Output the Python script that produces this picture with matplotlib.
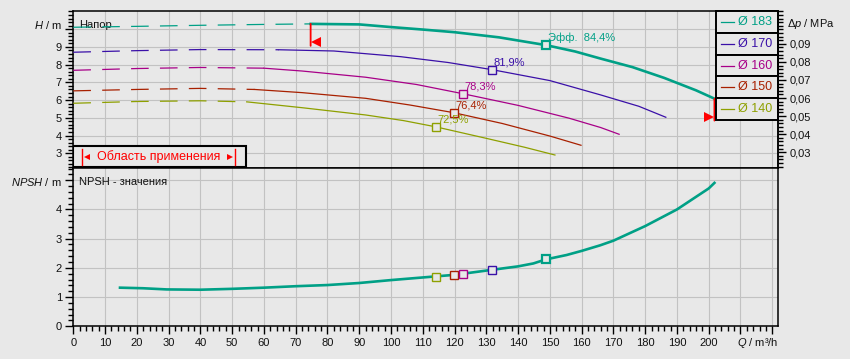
import matplotlib
matplotlib.use("Agg")
import matplotlib.pyplot as plt
from matplotlib.patches import Rectangle
from matplotlib.ticker import MultipleLocator, FixedLocator, FuncFormatter
from matplotlib.transforms import offset_copy

# ---- data --------------------------------------------------------------
diameters = [183, 170, 160, 150, 140]

q183 = [0, 20, 40, 60, 74.7, 90, 100, 110, 120, 134, 148.8, 158, 166, 176, 186, 196, 201.8]
h183 = [10.11, 10.16, 10.22, 10.27, 10.30, 10.27, 10.12, 9.98, 9.83, 9.54, 9.10, 8.74, 8.34, 7.86, 7.25, 6.55, 6.08]

q170 = [0, 20, 40, 64.7, 82, 103, 118, 131.7, 150, 166, 178, 186.5]
h170 = [8.70, 8.79, 8.85, 8.84, 8.77, 8.45, 8.12, 7.72, 7.10, 6.29, 5.65, 5.03]

q160 = [0, 20, 40, 60, 72, 92, 108, 122.6, 140, 156, 166, 171.8]
h160 = [7.68, 7.78, 7.84, 7.80, 7.64, 7.29, 6.88, 6.36, 5.70, 4.98, 4.45, 4.07]

q150 = [0, 20, 40, 57, 72, 92, 106, 119.7, 135, 150, 159.8]
h150 = [6.52, 6.60, 6.66, 6.60, 6.42, 6.10, 5.72, 5.29, 4.68, 3.97, 3.45]

q140 = [0, 20, 40, 54.6, 72, 92, 104, 114.1, 130, 142, 151.6]
h140 = [5.82, 5.92, 5.96, 5.90, 5.57, 5.16, 4.84, 4.49, 3.84, 3.34, 2.90]

# start of the allowed (solid) part of each curve
q_min = [74.7, 64.7, 60, 57, 54.6]

# best efficiency points
bep_q = [148.8, 131.7, 122.6, 119.7, 114.1]
bep_h = [9.10, 7.72, 6.36, 5.29, 4.49]
bep_eff = ["Эфф.  84,4%", "81,9%", "78,3%", "76,4%", "72,5%"]
bep_npsh = [2.29, 1.93, 1.80, 1.76, 1.70]

q_npsh = [14.7, 22, 29.4, 40, 50, 60, 70, 80, 90, 100, 110, 120, 131.7, 140,
          144.8, 148.8, 155.3, 160, 165.8, 170, 180, 190, 200, 201.8]
npsh = [1.32, 1.30, 1.26, 1.25, 1.28, 1.32, 1.37, 1.41, 1.48, 1.58, 1.67, 1.76, 1.93, 2.05,
        2.15, 2.29, 2.44, 2.58, 2.77, 2.93, 3.43, 4.00, 4.72, 4.91]

dp_ticks = [0.03, 0.04, 0.05, 0.06, 0.07, 0.08, 0.09]
MPA_PER_M = 0.00981

curves_q = [q183, q170, q160, q150, q140]
curves_h = [h183, h170, h160, h150, h140]

# ---- style -------------------------------------------------------------
BG = "#e8e8e8"
GRID = "#c2c2c2"
INK = "#111111"
RED = "#ff0000"
COLORS = ["#00a086", "#3a10a8", "#a80088", "#a82000", "#8ea000"]

plt.rcParams["font.family"] = ["Liberation Sans", "DejaVu Sans"]
plt.rcParams["font.size"] = 8
plt.rcParams["mathtext.fontset"] = "custom"
plt.rcParams["mathtext.rm"] = "Liberation Sans"
plt.rcParams["mathtext.it"] = "Liberation Sans:italic"
plt.rcParams["lines.scale_dashes"] = False

W, H = 850, 359
fig = plt.figure(figsize=(W / 100, H / 100), dpi=100, facecolor=BG)


def px_axes(x0, y0, x1, y1, **kw):
    return fig.add_axes([x0 / W, 1 - y1 / H, (x1 - x0) / W, (y1 - y0) / H], **kw)


ax_h = px_axes(73.3, 11.3, 778.3, 168.3)
ax_n = px_axes(73.3, 168.3, 778.3, 326.2, sharex=ax_h)

for ax in (ax_h, ax_n):
    ax.set_facecolor(BG)
    ax.set_axisbelow(True)
    ax.grid(True, which="major", color=GRID, linewidth=0.8)
    for sp in ax.spines.values():
        sp.set_color("black")
        sp.set_linewidth(1.1)

ax_h.set_xlim(0, 221.9)
ax_h.xaxis.set_major_locator(MultipleLocator(10))
ax_h.xaxis.set_minor_locator(MultipleLocator(2))

# ---- head panel --------------------------------------------------------
ax_h.set_ylim(2.15, 11.01)
ax_h.yaxis.set_major_locator(FixedLocator(range(3, 11)))
ax_h.yaxis.set_major_formatter(FuncFormatter(lambda v, p: "" if v >= 10 else f"{v:.0f}"))
ax_h.text(-0.016, 10.24, r"$\mathit{H}$ / m", transform=ax_h.get_yaxis_transform(),
          ha="right", va="center", fontsize=8, color=INK)
ax_h.text(0.0085, 0.913, "Напор", transform=ax_h.transAxes, ha="left", va="center",
          fontsize=8, color=INK)

for q, h, qm, c, i in zip(curves_q, curves_h, q_min, COLORS, range(5)):
    dash_q = [v for v in q if v <= qm]
    dash_h = h[:len(dash_q)]
    ax_h.plot(dash_q, dash_h, color=c, lw=0.9, dashes=(12.7, 8.1), zorder=3)
    ax_h.plot(q[len(dash_q) - 1:], h[len(dash_q) - 1:], color=c,
              lw=1.9 if i == 0 else 0.9, zorder=4 if i == 0 else 3)

for q, h, lab, c, i in zip(bep_q, bep_h, bep_eff, COLORS, range(5)):
    ax_h.plot(q, h, marker="s", ms=6 if i == 0 else 5.5, mfc=BG, mec=c,
              mew=1.6 if i == 0 else 1.0, zorder=6)
    ax_h.annotate(lab, (q, h), textcoords="offset points", xytext=(1.5, 5.2),
                  ha="left", va="center", fontsize=8, color=c, zorder=7)

# operating range flags on the largest impeller
def flag(ax, q, h, side):
    ax.annotate("", xy=(q, h), xytext=(0, -15.8), textcoords="offset points",
                arrowprops=dict(arrowstyle="-", color=RED, lw=1.3, shrinkA=0, shrinkB=0),
                zorder=8)
    tr = offset_copy(ax.transData, fig=fig, x=3.6 * side, y=-13.3, units="points")
    ax.plot(q, h, marker="<" if side > 0 else ">", ms=6.5, color=RED, mew=0,
            transform=tr, zorder=8)


flag(ax_h, q_min[0], h183[q183.index(q_min[0])], 1)
flag(ax_h, q183[-1], h183[-1], -1)

# right axis: pressure difference
ax_p = ax_h.twinx()
ax_p.set_ylim(2.15 * MPA_PER_M, 11.01 * MPA_PER_M)
for name in ("left", "top", "bottom"):
    ax_p.spines[name].set_visible(False)
ax_p.spines["right"].set_color("black")
ax_p.spines["right"].set_linewidth(1.1)
ax_p.yaxis.set_major_locator(FixedLocator(dp_ticks))
ax_p.yaxis.set_minor_locator(MultipleLocator(0.002))
ax_p.yaxis.set_major_formatter(FuncFormatter(lambda v, p: f"{v:.2f}".replace(".", ",")))
ax_p.tick_params(which="major", direction="out", length=5.8, width=1.0, color="black",
                 labelcolor=INK, labelsize=8, pad=2.7)
ax_p.tick_params(which="minor", direction="out", length=3.6, width=1.0, color="black")
ax_h.text(1.0128, 10.27, r"$\mathit{Δp}$ / MPa", transform=ax_h.get_yaxis_transform(),
          ha="left", va="center", fontsize=8, color=INK, clip_on=False)

# legend cells
row_h = 0.1382
for i, (d, c) in enumerate(zip(diameters, COLORS)):
    y0 = 1.0 - (i + 1) * row_h
    ax_h.add_patch(Rectangle((0.9112, y0), 0.0888, row_h, transform=ax_h.transAxes,
                             facecolor=BG, edgecolor="black", lw=1.4, zorder=9,
                             clip_on=False))
    ax_h.plot([0.9182, 0.9375], [y0 + row_h / 2] * 2, color=c, lw=0.9,
              transform=ax_h.transAxes, zorder=10)
    ax_h.text(0.9433, y0 + row_h / 2, f"Ø {d}", color=c, fontsize=9,
              transform=ax_h.transAxes, ha="left", va="center", zorder=10)

# application range box
ax_h.add_patch(Rectangle((0, 0.006), 0.245, 0.136, transform=ax_h.transAxes,
                         facecolor=BG, edgecolor="black", lw=1.5, zorder=9))
for xb in (0.0128, 0.2294):
    ax_h.plot([xb, xb], [0.021, 0.123], color=RED, lw=1.0, transform=ax_h.transAxes,
              zorder=10)
ax_h.plot(0.0196, 0.072, marker="<", ms=4, color=RED, mew=0,
          transform=ax_h.transAxes, zorder=10)
ax_h.plot(0.2226, 0.072, marker=">", ms=4, color=RED, mew=0,
          transform=ax_h.transAxes, zorder=10)
ax_h.text(0.1218, 0.072, "Область применения", color=RED, fontsize=9,
          transform=ax_h.transAxes, ha="center", va="center", zorder=10)

# ---- NPSH panel --------------------------------------------------------
ax_n.set_ylim(0, 5.41)
ax_n.yaxis.set_major_locator(FixedLocator(range(0, 6)))
ax_n.yaxis.set_major_formatter(FuncFormatter(lambda v, p: "" if v >= 5 else f"{v:.0f}"))
ax_n.xaxis.set_major_formatter(FuncFormatter(lambda v, p: f"{v:.0f}" if v <= 200 else ""))
ax_n.text(-0.016, 4.95, r"$\mathit{NPSH}$ / m", transform=ax_n.get_yaxis_transform(),
          ha="right", va="center", fontsize=8, color=INK)
ax_n.text(0.0085, 0.915, "NPSH - значения", transform=ax_n.transAxes, ha="left",
          va="center", fontsize=8, color=INK)
ax_n.text(221.9, -0.108, r"$\mathit{Q}$ / m³/h", transform=ax_n.get_xaxis_transform(),
          ha="right", va="center", fontsize=8, color=INK)

ax_n.plot(q_npsh, npsh, color=COLORS[0], lw=1.9, zorder=4)
for i in range(4, -1, -1):
    ax_n.plot(bep_q[i], bep_npsh[i], marker="s", ms=6 if i == 0 else 5.5, mfc=BG,
              mec=COLORS[i], mew=1.6 if i == 0 else 1.0, zorder=6)

# ---- ticks (after the twin axis exists) ---------------------------------
for ax in (ax_h, ax_n):
    ax.yaxis.set_minor_locator(MultipleLocator(0.2))
    ax.tick_params(axis="y", which="major", left=True, direction="out", length=5.8,
                   width=1.0, color="black", labelcolor=INK, labelsize=8, pad=2.4)
    ax.tick_params(axis="y", which="minor", left=True, direction="out", length=3.6,
                   width=1.0, color="black")
ax_h.tick_params(axis="x", which="both", length=0, labelbottom=False)
ax_n.tick_params(axis="x", which="major", direction="out", length=5.8, width=1.0,
                 color="black", labelcolor=INK, labelsize=8, pad=2.5)
ax_n.tick_params(axis="x", which="minor", direction="out", length=3.6, width=1.0,
                 color="black")

fig.savefig("out.png", dpi=100, facecolor=BG)
